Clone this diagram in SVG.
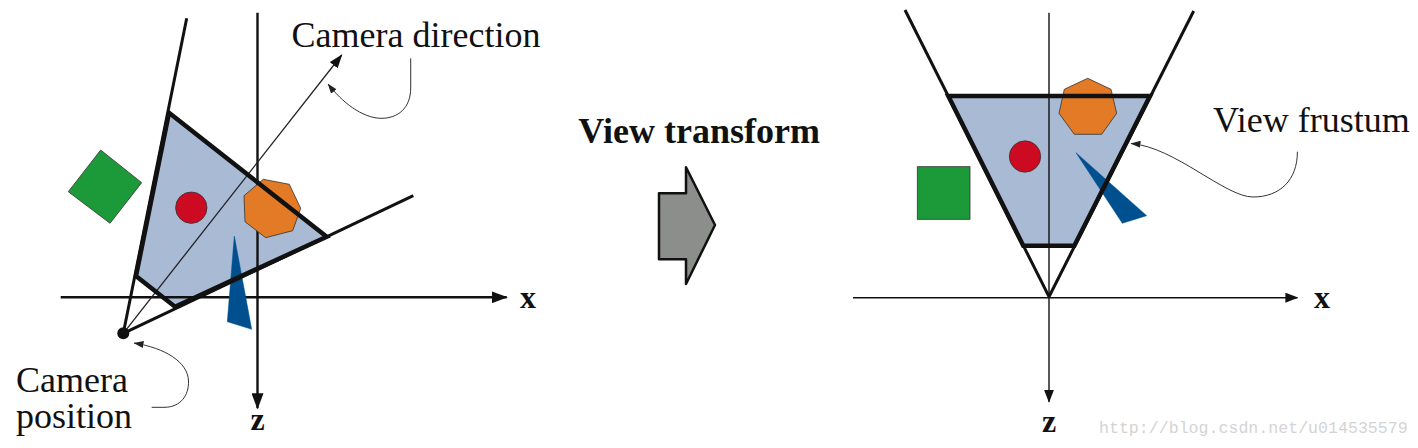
<svg xmlns="http://www.w3.org/2000/svg" width="1418" height="448" viewBox="0 0 1418 448">
<defs>
<style>
.bg{fill:#ffffff}
.frfill{fill:#a9bad5;stroke:none}
.fredge{fill:none;stroke:#111;stroke-width:4.5;stroke-linejoin:miter}
.side{stroke:#111;stroke-width:3;fill:none}
.axisL{stroke:#111;stroke-width:2.4;fill:none}
.axisR{stroke:#111;stroke-width:1.4;fill:none}
.thin{stroke:#222;stroke-width:1.3;fill:none}
.call{stroke:#333;stroke-width:1;fill:none}
.sh{stroke:#333;stroke-width:0.8}
.green{fill:#1c9a3a}
.red{fill:#cc0a22}
.orange{fill:#e37a25}
.blue{fill:#00508f;stroke:#00508f;stroke-width:0.5}
.lbl{font-family:"Liberation Serif","Times New Roman",serif;font-size:36px;fill:#111}
.ax{font-family:"Liberation Serif","Times New Roman",serif;font-size:32px;font-weight:bold;fill:#111}
.wm{font-family:"Liberation Mono","DejaVu Sans Mono",monospace;font-size:16.6px;fill:#d4d4d4}
</style>
<marker id="axArrow" viewBox="0 0 16 12" refX="15" refY="6" markerWidth="16" markerHeight="12" markerUnits="userSpaceOnUse" orient="auto">
<path d="M0,0 L16,6 L0,12 z" fill="#111"/>
</marker>
<marker id="axArrowS" viewBox="0 0 13 10" refX="12" refY="5" markerWidth="13" markerHeight="10" markerUnits="userSpaceOnUse" orient="auto">
<path d="M0,0 L13,5 L0,10 z" fill="#111"/>
</marker>
<marker id="dirArrow" viewBox="0 0 14 10" refX="13" refY="5" markerWidth="14" markerHeight="10" markerUnits="userSpaceOnUse" orient="auto">
<path d="M0,0 L14,5 L0,10 z" fill="#111"/>
</marker>
<marker id="callArrow" viewBox="0 0 10 7" refX="9.5" refY="3.5" markerWidth="10" markerHeight="7" markerUnits="userSpaceOnUse" orient="auto">
<path d="M0,0 L10,3.5 L0,7 z" fill="#222"/>
</marker>
</defs>
<rect class="bg" x="0" y="0" width="1418" height="448"/>

<g id="left-frustum-fill">
<polygon class="frfill" points="169,112.7 326.7,236.7 175,306.7 136,276"/>
</g>
<g id="right-frustum-fill">
<polygon class="frfill" points="948.3,96 1150,96 1074.3,245.7 1023.3,245.7"/>
</g>

<g id="connectors">
<line class="axisL" x1="60.7" y1="297.3" x2="506.7" y2="297.3" marker-end="url(#axArrow)"/>
<line class="axisL" x1="257.5" y1="12.7" x2="257.5" y2="408.3" marker-end="url(#axArrow)"/>
<line class="thin" x1="123.3" y1="333.3" x2="341.7" y2="55" marker-end="url(#dirArrow)"/>
<path class="call" d="M410.7,58.3 L410.7,88 C410.7,108 398,118.5 381,118.3 C362,118 342,102 328,84" marker-end="url(#callArrow)"/>
<path class="call" d="M151.7,407.3 L165,407.3 C180,407 189,396 188.5,381 C188,362 165,348 134,343" marker-end="url(#callArrow)"/>
<line class="axisR" x1="853" y1="297.7" x2="1297.4" y2="297.7" marker-end="url(#axArrowS)"/>
<line class="axisR" x1="1049" y1="12.7" x2="1049" y2="401.7" marker-end="url(#axArrowS)"/>
<path class="call" d="M1297.4,151.7 C1297.4,180 1280,197 1253,197 C1225,197 1175,147 1131,143.5" marker-end="url(#callArrow)"/>
</g>

<g id="left-green">
<polygon class="green sh" points="100.7,150 141.7,182.7 110,223.3 68.3,191.7"/>
</g>
<g id="left-red">
<circle class="red sh" cx="191.3" cy="207.7" r="15.7"/>
</g>
<g id="left-orange">
<polygon class="orange sh" points="263.3,179.3 289.3,184.3 300.7,208.3 292.7,230.7 265.7,237.7 245,221.7 244,195.7"/>
</g>
<g id="left-blue">
<polygon class="blue" points="234.3,236 227.3,321.7 251.7,329.3"/>
</g>

<g id="right-green">
<rect class="green sh" x="917.3" y="166.7" width="52.7" height="52.6"/>
</g>
<g id="right-red">
<circle class="red sh" cx="1025" cy="156.5" r="15.7"/>
</g>
<g id="right-orange">
<polygon class="orange sh" points="1087.7,78.3 1111,89.3 1116.7,113.3 1101.7,134.3 1074.3,134.3 1059,113.3 1064.3,89.3"/>
</g>
<g id="right-blue">
<polygon class="blue" points="1076,152.7 1146.7,215.7 1122.3,223.3"/>
</g>

<g id="left-frustum">
<line class="side" x1="123.3" y1="333.3" x2="186.7" y2="18.3"/>
<line class="side" x1="123.3" y1="333.3" x2="413.3" y2="195.7"/>
<polygon class="fredge" points="169,112.7 326.7,236.7 175,306.7 136,276"/>
</g>
<g id="right-frustum">
<line class="side" x1="905" y1="10" x2="1049" y2="296.7"/>
<line class="side" x1="1193.7" y1="11" x2="1049" y2="296.7"/>
<polygon class="fredge" points="948.3,96 1150,96 1074.3,245.7 1023.3,245.7"/>
</g>

<g id="camera">
<circle cx="123.3" cy="333.3" r="6" fill="#111"/>
</g>

<g id="labels-left">
<text class="lbl" x="291.5" y="46.5">Camera direction</text>
<text class="lbl" x="16" y="391.7">Camera</text>
<text class="lbl" x="16" y="428.3">position</text>
<text class="ax" x="520" y="308">x</text>
<text class="ax" x="257.5" y="430" text-anchor="middle">z</text>
</g>

<g id="view-transform">
<text class="lbl" x="578.3" y="143.3" font-weight="bold">View transform</text>
<polygon points="659,193.3 686,193.3 686,167.3 715,225 686,284 686,259.3 659,259.3" fill="#8c8e8b" stroke="#111" stroke-width="2.5" stroke-linejoin="round"/>
</g>

<g id="labels-right">
<text class="lbl" x="1213" y="131.7">View frustum</text>
<text class="ax" x="1314" y="308.3">x</text>
<text class="ax" x="1049" y="431.7" text-anchor="middle">z</text>
<text class="wm" x="1099" y="433.3">http://blog.csdn.net/u014535579</text>
</g>
</svg>
